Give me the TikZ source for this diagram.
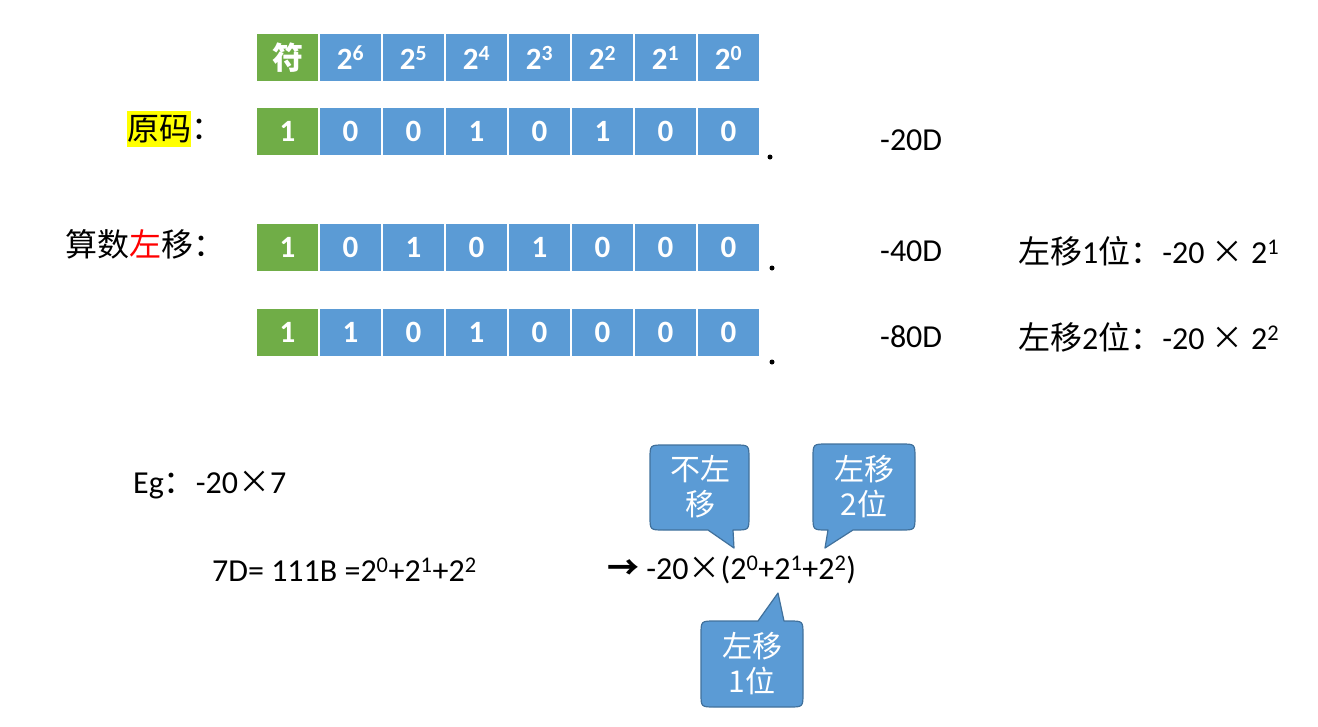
\documentclass[tikz,border=0pt]{standalone}
\usepackage{fontspec}
\setmainfont{Carlito}
\newfontfamily\cjk{Noto Sans CJK SC}
\usetikzlibrary{positioning}
\definecolor{bitblue}{HTML}{5B9BD5}
\definecolor{signgreen}{HTML}{70AD47}
\definecolor{tipedge}{HTML}{41719C}
\definecolor{marker}{HTML}{FFFF00}
\begin{document}
\begin{tikzpicture}[x=1pt, y=-1pt, font=\fontsize{32}{38}\selectfont, line join=round, line cap=round, >=stealth,
	cell/.style={minimum width=61pt, minimum height=47pt, inner sep=0pt, text=white, font=\fontsize{31}{36}\selectfont\bfseries},
	signcell/.style={cell, fill=signgreen},
	bitcell/.style={cell, fill=bitblue},
	txt/.style={anchor=west, inner sep=0pt},
	tiptext/.style={text=white, align=center, inner sep=0pt, font=\fontsize{30}{35}\selectfont\cjk},
	tipbox/.style={fill=bitblue, draw=tipedge, line width=1.2pt},
	dot/.style={circle, fill=black, inner sep=0pt, minimum size=5pt}]
	\useasboundingbox (0,0) rectangle (1318,726);
	
	\node[signcell] (h0) at (287.5,57.5) {\cjk 符};
	\foreach \e [count=\i] in {6,5,4,3,2,1,0}
		\node[bitcell] (h\i) at (287.5+63*\i,57.5) {2\textsuperscript{\e}};
	
	\node[signcell] (a0) at (287.5,131) {1};
	\foreach \b [count=\i] in {0,0,1,0,1,0,0}
		\node[bitcell] (a\i) at (287.5+63*\i,131) {\b};
	\node[signcell] (b0) at (287.5,247) {1};
	\foreach \b [count=\i] in {0,1,0,1,0,0,0}
		\node[bitcell] (b\i) at (287.5+63*\i,247) {\b};
	\node[signcell] (c0) at (287.5,332.5) {1};
	\foreach \b [count=\i] in {1,0,1,0,0,0,0}
		\node[bitcell] (c\i) at (287.5+63*\i,332.5) {\b};
	
	\node[dot] (pa) at (770,157) {};
	\node[dot] (pb) at (772,268) {};
	\node[dot] (pc) at (772,362) {};
	
	\node[txt, fill=marker, minimum height=36pt] (yuan) at (127,129) {\cjk 原码};
	\node[right=0pt of yuan, inner sep=0pt] (yuanc) {\cjk ：};
	\node[txt] (suan) at (65,244) {\cjk 算数\textcolor{red}{左}移：};
	
	\node[txt] (v1) at (880,140) {-20D};
	\node[txt] (v2) at (880,251) {-40D};
	\node[txt] (v3) at (880,337) {-80D};
	\node[txt] (s1) at (1018,251) {{\cjk 左移}1{\cjk 位：}-20 {\cjk ×} 2\textsuperscript{1}};
	\node[txt] (s2) at (1018,337) {{\cjk 左移}2{\cjk 位：}-20 {\cjk ×} 2\textsuperscript{2}};
	
	\node[txt] (eg) at (133,485) {Eg{\cjk ：}-20{\cjk ×}7};
	\node[txt] (sev) at (212,570) {7D= 111B =2\textsuperscript{0}+2\textsuperscript{1}+2\textsuperscript{2}};
	\node[txt] (res) at (607,570) {{\cjk\bfseries →} -20{\cjk ×}(2\textsuperscript{0}+2\textsuperscript{1}+2\textsuperscript{2})};
	
	\draw[tipbox] (733,530) -- (734,548) -- (708,530) -- (664,530) .. controls (650,530) .. (650,516) -- (650,459) .. controls (650,445) .. (664,445) -- (735,445) .. controls (749,445) .. (749,459) -- (749,516) .. controls (749,530) .. (735,530) -- cycle;
	\draw[tipbox] (828,530) -- (825,548) -- (853,530) -- (901,530) .. controls (915,530) .. (915,516) -- (915,458) .. controls (915,444) .. (901,444) -- (827,444) .. controls (813,444) .. (813,458) -- (813,516) .. controls (813,530) .. (827,530) -- cycle;
	\draw[tipbox] (758,621) -- (778,593) -- (784,621) -- (789,621) .. controls (803,621) .. (803,635) -- (803,693) .. controls (803,707) .. (789,707) -- (715,707) .. controls (701,707) .. (701,693) -- (701,635) .. controls (701,621) .. (715,621) -- cycle;
	\node[tiptext] (t1) at (700,487) {不左\\移};
	\node[tiptext] (t2) at (864,487) {左移\\2位};
	\node[tiptext] (t3) at (752,664) {左移\\1位};
\end{tikzpicture}
\end{document}
